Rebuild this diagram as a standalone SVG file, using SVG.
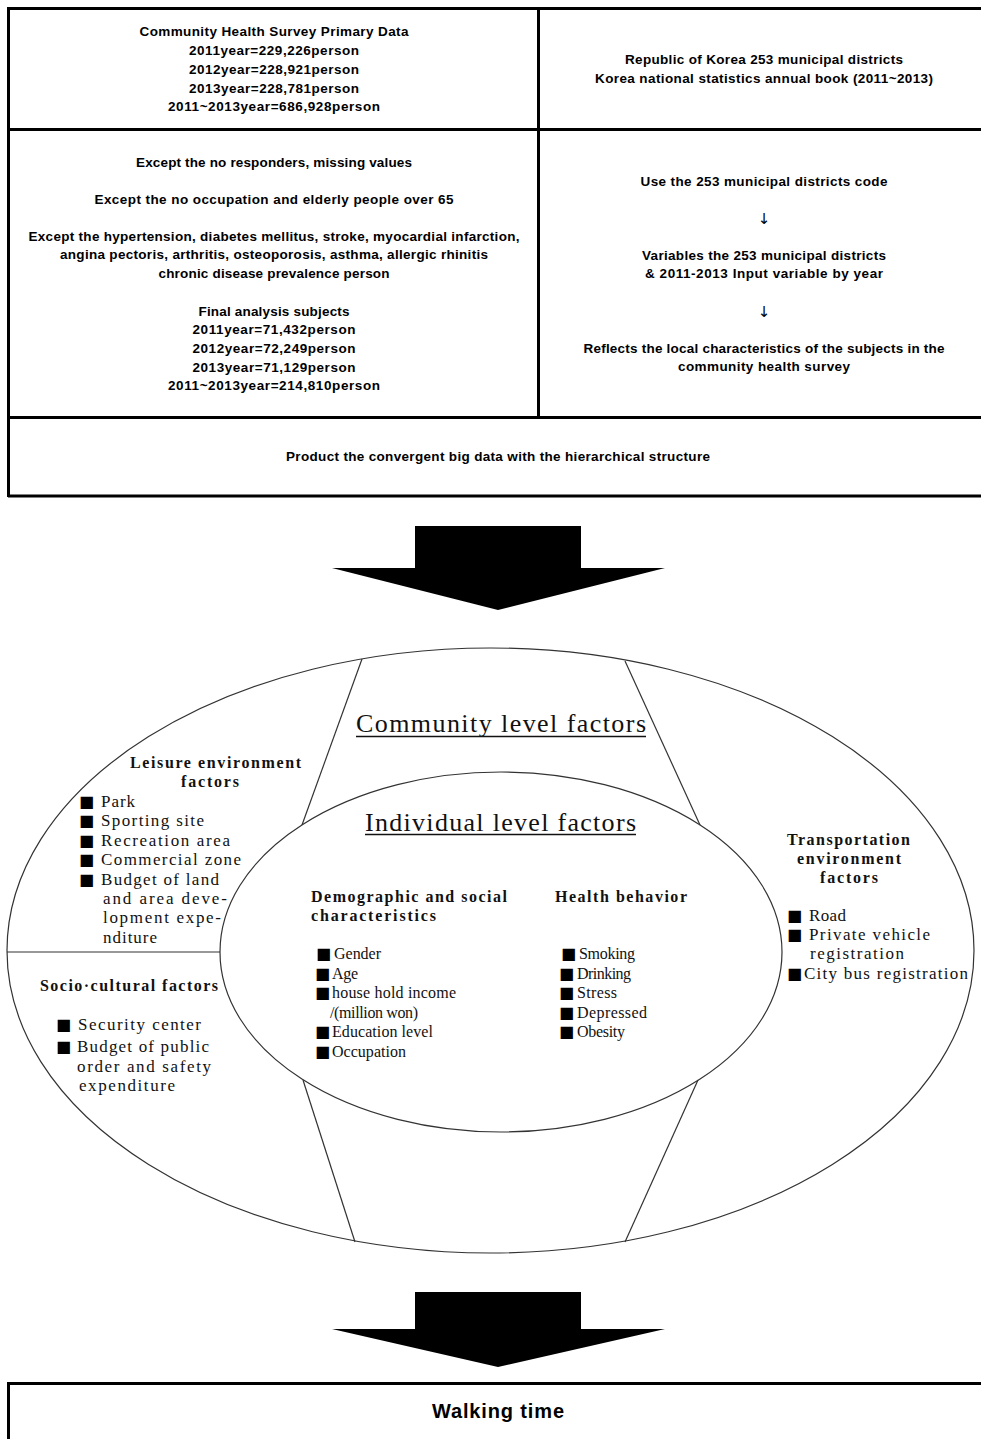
<svg xmlns="http://www.w3.org/2000/svg" width="981" height="1439" viewBox="0 0 981 1439">
<style>
.tb{font-family:"Liberation Sans",Arial,sans-serif;font-weight:bold;font-size:13.5px;text-anchor:middle;fill:#000}
.ar{font-family:"DejaVu Sans",sans-serif;font-size:15px;text-anchor:middle;fill:#000}
.wk{font-family:"Liberation Sans",Arial,sans-serif;font-weight:bold;font-size:20px;text-anchor:middle;fill:#000}
.hd{font-family:"Liberation Serif","Times New Roman",serif;font-weight:bold;font-size:16px;fill:#111}
.it{font-family:"Liberation Serif","Times New Roman",serif;font-size:17px;fill:#111}
.ii{font-family:"Liberation Serif","Times New Roman",serif;font-size:16px;fill:#111}
.big{font-family:"Liberation Serif","Times New Roman",serif;font-size:26px;fill:#111}
.bul{font-family:"DejaVu Sans",sans-serif;font-size:16px;fill:#000}
.thick{stroke:#000;stroke-width:3;fill:none}
.thin{stroke:#333;stroke-width:1.2;fill:none}
.arrow{fill:#000}
</style>
<rect width="981" height="1439" fill="#fff"/>

<g id="table">
  <line class="thick" x1="8.5" y1="8.5" x2="981" y2="8.5"/>
  <line class="thick" x1="8.5" y1="7" x2="8.5" y2="497"/>
  <line class="thick" x1="8" y1="129.5" x2="981" y2="129.5"/>
  <line class="thick" x1="8" y1="417.5" x2="981" y2="417.5"/>
  <line class="thick" x1="8" y1="496" x2="981" y2="496"/>
  <line class="thick" x1="538.5" y1="8" x2="538.5" y2="417"/>
</g>

<g id="node-survey-data">
  <text class="tb" x="274" y="36" textLength="269">Community Health Survey Primary Data</text>
  <text class="tb" x="274" y="55" textLength="170">2011year=229,226person</text>
  <text class="tb" x="274" y="74" textLength="170">2012year=228,921person</text>
  <text class="tb" x="274" y="93" textLength="170">2013year=228,781person</text>
  <text class="tb" x="274" y="111" textLength="212">2011~2013year=686,928person</text>
</g>

<g id="node-korea-districts">
  <text class="tb" x="764" y="64" textLength="278">Republic of Korea  253 municipal  districts</text>
  <text class="tb" x="764" y="83" textLength="338">Korea national statistics annual book (2011~2013)</text>
</g>

<g id="node-exclusions">
  <text class="tb" x="274" y="167" textLength="276">Except the no responders, missing values</text>
  <text class="tb" x="274" y="204" textLength="359">Except the  no occupation  and elderly people over 65</text>
  <text class="tb" x="274" y="241" textLength="491">Except the hypertension, diabetes mellitus, stroke, myocardial infarction,</text>
  <text class="tb" x="274" y="259" textLength="428">angina pectoris, arthritis,  osteoporosis, asthma,  allergic rhinitis</text>
  <text class="tb" x="274" y="278" textLength="231">chronic disease prevalence person</text>
  <text class="tb" x="274" y="316" textLength="151">Final  analysis subjects</text>
  <text class="tb" x="274" y="334" textLength="163">2011year=71,432person</text>
  <text class="tb" x="274" y="353" textLength="163">2012year=72,249person</text>
  <text class="tb" x="274" y="372" textLength="163">2013year=71,129person</text>
  <text class="tb" x="274" y="390" textLength="212">2011~2013year=214,810person</text>
</g>

<g id="node-district-variables">
  <text class="tb" x="764" y="186" textLength="247">Use the 253 municipal  districts  code</text>
  <text class="ar" x="764" y="224">↓</text>
  <text class="tb" x="764" y="260" textLength="244">Variables the 253 municipal districts</text>
  <text class="tb" x="764" y="278" textLength="238">&amp; 2011-2013 Input variable by year</text>
  <text class="ar" x="764" y="317">↓</text>
  <text class="tb" x="764" y="353" textLength="361">Reflects the local characteristics of the subjects in the</text>
  <text class="tb" x="764" y="371" textLength="172">community health survey</text>
</g>

<g id="node-big-data">
  <text class="tb" x="498" y="461" textLength="424">Product the convergent big data with the hierarchical  structure</text>
</g>

<g id="connectors">
  <polygon class="arrow" points="415,526 581,526 581,568 665,568 498,610 332,568 415,568"/>
  <polygon class="arrow" points="415,1292 581,1292 581,1329 665,1329 498,1367 332,1329 415,1329"/>
</g>

<g id="node-factors-model">
  <ellipse class="thin" cx="490.5" cy="950.5" rx="483.5" ry="302.5"/>
  <ellipse class="thin" cx="501" cy="952" rx="281" ry="180"/>
  <line class="thin" x1="362" y1="659" x2="302" y2="825"/>
  <line class="thin" x1="625" y1="661" x2="700" y2="825"/>
  <line class="thin" x1="7" y1="952" x2="220" y2="952"/>
  <line class="thin" x1="303" y1="1080" x2="355" y2="1242"/>
  <line class="thin" x1="698" y1="1080" x2="625" y2="1242"/>
</g>

<g id="node-community-level">
  <text class="big" x="356" y="732" textLength="290">Community level factors</text>
  <line x1="356" y1="736.5" x2="646" y2="736.5" stroke="#111" stroke-width="1.3"/>
</g>

<g id="node-individual-level">
  <text class="big" x="365" y="831" textLength="271">Individual level factors</text>
  <line x1="365" y1="834.5" x2="636" y2="834.5" stroke="#111" stroke-width="1.3"/>
</g>

<g id="node-leisure">
  <text class="hd" x="130" y="768" textLength="171">Leisure environment</text>
  <text class="hd" x="181" y="787" textLength="58">factors</text>
  <text class="it" y="807"><tspan class="bul" x="79">■</tspan><tspan x="101" textLength="34">Park</tspan></text>
  <text class="it" y="826"><tspan class="bul" x="79">■</tspan><tspan x="101" textLength="103">Sporting  site</tspan></text>
  <text class="it" y="846"><tspan class="bul" x="79">■</tspan><tspan x="101" textLength="129">Recreation  area</tspan></text>
  <text class="it" y="865"><tspan class="bul" x="79">■</tspan><tspan x="101" textLength="140">Commercial  zone</tspan></text>
  <text class="it" y="885"><tspan class="bul" x="79">■</tspan><tspan x="101" textLength="118">Budget  of  land</tspan></text>
  <text class="it" x="103" y="904" textLength="124">and  area  deve-</text>
  <text class="it" x="103" y="923" textLength="118">lopment  expe-</text>
  <text class="it" x="103" y="943" textLength="54">nditure</text>
</g>

<g id="node-socio-cultural">
  <text class="hd" x="40" y="991" textLength="178">Socio·cultural factors</text>
  <text class="it" y="1030"><tspan class="bul" x="56">■</tspan><tspan x="78" textLength="123">Security  center</tspan></text>
  <text class="it" y="1052"><tspan class="bul" x="56">■</tspan><tspan x="77" textLength="132">Budget  of  public</tspan></text>
  <text class="it" x="77" y="1072" textLength="134">order  and  safety</text>
  <text class="it" x="79" y="1091" textLength="96">expenditure</text>
</g>

<g id="node-transportation">
  <text class="hd" x="787" y="845" textLength="123">Transportation</text>
  <text class="hd" x="797" y="864" textLength="104">environment</text>
  <text class="hd" x="820" y="883" textLength="58">factors</text>
  <text class="it" y="921"><tspan class="bul" x="787">■</tspan><tspan x="809" textLength="37">Road</tspan></text>
  <text class="it" y="940"><tspan class="bul" x="787">■</tspan><tspan x="809" textLength="121">Private  vehicle</tspan></text>
  <text class="it" x="810" y="959" textLength="94">registration</text>
  <text class="it" y="979"><tspan class="bul" x="787">■</tspan><tspan x="804" textLength="164">City bus registration</tspan></text>
</g>

<g id="node-demographic">
  <text class="hd" x="311" y="902" textLength="196">Demographic and social</text>
  <text class="hd" x="311" y="921" textLength="125">characteristics</text>
  <text class="ii" y="959"><tspan class="bul" x="316">■</tspan><tspan x="334" textLength="47">Gender</tspan></text>
  <text class="ii" y="979"><tspan class="bul" x="315">■</tspan><tspan x="332" textLength="26">Age</tspan></text>
  <text class="ii" y="998"><tspan class="bul" x="315">■</tspan><tspan x="332" textLength="124">house hold income</tspan></text>
  <text class="ii" x="330" y="1018" textLength="88">/(million won)</text>
  <text class="ii" y="1037"><tspan class="bul" x="315">■</tspan><tspan x="332" textLength="101">Education level</tspan></text>
  <text class="ii" y="1057"><tspan class="bul" x="315">■</tspan><tspan x="332" textLength="74">Occupation</tspan></text>
</g>

<g id="node-health-behavior">
  <text class="hd" x="555" y="902" textLength="132">Health behavior</text>
  <text class="ii" y="959"><tspan class="bul" x="561">■</tspan><tspan x="579" textLength="56">Smoking</tspan></text>
  <text class="ii" y="979"><tspan class="bul" x="559">■</tspan><tspan x="577" textLength="54">Drinking</tspan></text>
  <text class="ii" y="998"><tspan class="bul" x="559">■</tspan><tspan x="577" textLength="40">Stress</tspan></text>
  <text class="ii" y="1018"><tspan class="bul" x="559">■</tspan><tspan x="577" textLength="70">Depressed</tspan></text>
  <text class="ii" y="1037"><tspan class="bul" x="559">■</tspan><tspan x="577" textLength="48">Obesity</tspan></text>
</g>

<g id="node-walking-time">
  <line class="thick" x1="8" y1="1383.5" x2="981" y2="1383.5"/>
  <line class="thick" x1="8.5" y1="1382" x2="8.5" y2="1439"/>
  <text class="wk" x="498" y="1418" textLength="132">Walking time</text>
</g>
</svg>
